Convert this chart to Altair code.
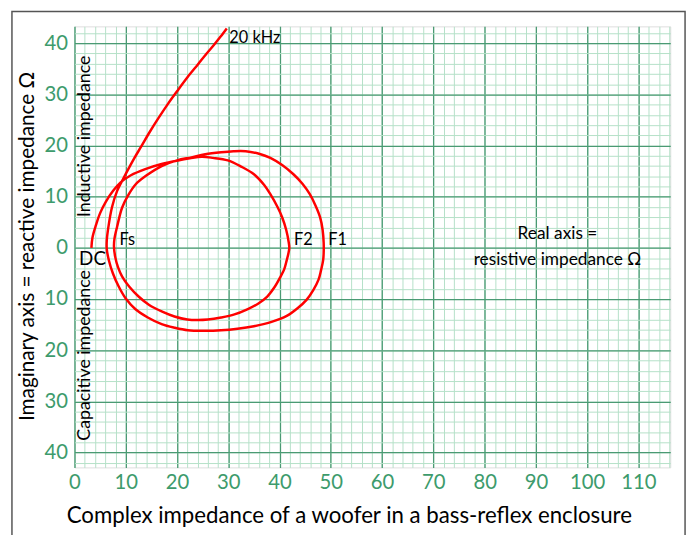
import altair as alt
import pandas as pd

# Impedance locus (real part, imaginary part), ordered from DC to 20 kHz
re_vals = [3.3, 3.5, 4.2, 5.0, 6.1, 7.5, 9.0, 11.0, 13.8, 17.0, 20.2, 22.5,
           24.8, 27.0, 29.9, 32.5, 35.0, 37.0, 38.2, 39.6, 40.5, 41.3, 41.8, 41.9, 41.7, 41.4, 40.9, 40.2,
           39.0, 37.6, 35.8, 33.7, 31.2, 28.6, 26.0, 24.1, 22.0, 19.5, 17.0, 14.5, 12.5, 10.7, 9.3,
           8.5, 7.95, 7.7, 7.8, 8.3, 9.3, 10.6, 11.9, 13.8, 17.0, 20.0, 22.8,
           25.5, 28.6, 31.0, 33.4, 36.0, 38.2, 40.5, 42.7, 44.5, 45.9, 47.0, 47.9, 48.4, 48.6, 48.6,
           48.5, 48.1, 47.6, 46.6, 45.3, 43.5, 41.4, 38.3, 35.0, 31.8, 28.6, 25.5, 22.1, 19.5, 17.0,
           14.3, 11.9, 10.0, 8.6, 7.5, 6.7, 6.3, 6.3, 6.6, 7.3, 8.3, 9.6, 10.6, 11.7, 13.0, 14.7, 16.4,
           18.2, 20.0, 22.0, 24.1, 25.7, 27.3, 28.5, 29.7]
im_vals = [0.0, 2.0, 4.5, 6.8, 9.0, 11.1, 12.8, 14.2, 15.4, 16.4, 17.1, 17.5,
           17.8, 17.6, 17.1, 15.9, 14.4, 12.3, 10.5, 8.0, 6.0, 3.5, 1.0, 0.0, -1.2, -2.4, -4.2, -5.6,
           -7.7, -9.5, -10.9, -12.0, -13.0, -13.6, -14.0, -14.1, -14.0, -13.4, -12.4, -11.1, -9.5, -7.6, -5.6,
           -3.8, -1.8, 0.3, 1.8, 4.1, 7.9, 10.5, 12.4, 14.0, 16.0, 17.1, 17.7,
           18.3, 18.7, 18.9, 18.9, 18.4, 17.6, 16.2, 14.4, 12.5, 10.5, 8.3, 6.0, 3.5, 1.0, -1.0,
           -2.4, -4.3, -6.2, -8.2, -10.1, -11.8, -13.3, -14.5, -15.3, -15.8, -16.1, -16.2, -16.1, -15.6, -14.9,
           -13.6, -12.0, -9.9, -7.5, -5.0, -2.4, -0.3, 1.5, 4.0, 7.9, 11.1, 13.7, 15.6, 17.6, 19.8, 22.7, 25.4,
           28.1, 30.6, 33.3, 35.9, 37.9, 39.8, 41.3, 42.9]

label_text = ["20 kHz", "Fs", "F2", "F1"]
label_re = [30.2, 8.8, 42.8, 49.5]
label_im = [41.1, 1.5, 1.5, 1.5]

axis_note_text = ["Real axis =", "resistive impedance \u03a9"]
axis_note_re = [94.2, 94.2]
axis_note_im = [2.8, -2.4]

side_text = ["Inductive impedance", "Capacitive impedance"]
side_re = [2.1, 2.0]
side_im = [21.8, -21.0]

dc_text = ["DC"]
dc_re = [0.9]
dc_im = [-2.2]

x_major = [0, 10, 20, 30, 40, 50, 60, 70, 80, 90, 100, 110]
y_major = [-40, -30, -20, -10, 0, 10, 20, 30, 40]
x_minor = list(range(0, 117, 2))
y_minor = list(range(-42, 43, 2))

FONT = "Lato"
GREEN_TXT = "#3d9b6c"
MAJOR = "#4a9a73"
MINOR = "#b5e1c8"

df = pd.DataFrame({"i": list(range(len(re_vals))), "re": re_vals, "im": im_vals})
xs = alt.Scale(domain=[0, 116.2], nice=False, zero=False)
ys = alt.Scale(domain=[-42.9, 43.3], nice=False, zero=False)

minor = alt.Chart(df).mark_point(opacity=0).encode(
    x=alt.X("re:Q", scale=xs, axis=alt.Axis(orient="bottom", values=x_minor, grid=True, gridColor=MINOR,
                                           gridWidth=1, labels=False, ticks=False, domain=False, title=None)),
    y=alt.Y("im:Q", scale=ys, axis=alt.Axis(orient="left", values=y_minor, grid=True, gridColor=MINOR,
                                           gridWidth=1, labels=False, ticks=False, domain=False, title=None)),
)

major = alt.Chart(df).mark_point(opacity=0).encode(
    x=alt.X("re:Q", scale=xs, axis=alt.Axis(
        orient="bottom", values=x_major, grid=True, gridColor=MAJOR, gridWidth=1.3,
        labels=True, labelColor=GREEN_TXT, labelFont=FONT, labelFontSize=20.5, labelPadding=5,
        ticks=False, domain=False, labelFlush=False,
        title="Complex impedance of a woofer in a bass-reflex enclosure", titleFont=FONT,
        titleFontSize=22.5, titleFontWeight="normal", titleColor="black",
        titleX=277.7, titleY=49, titleAlign="center", titleBaseline="middle")),
    y=alt.Y("im:Q", scale=ys, axis=alt.Axis(
        orient="left", values=y_major, grid=True, gridColor=MAJOR, gridWidth=1.3,
        labels=True, labelColor=GREEN_TXT, labelFont=FONT, labelFontSize=20.5, labelPadding=7,
        labelExpr="abs(datum.value)", ticks=False, domain=False, labelFlush=False,
        title="Imaginary axis = reactive impedance \u03a9", titleFont=FONT, titleFontSize=21,
        titleFontWeight="normal", titleColor="black", titleAngle=270,
        titleX=-47.8, titleY=222.2, titleAlign="center", titleBaseline="middle")),
)

curve = alt.Chart(df).mark_line(color="#ff0000", strokeWidth=2.5, interpolate="catmull-rom").encode(
    x=alt.X("re:Q", scale=xs, axis=None),
    y=alt.Y("im:Q", scale=ys, axis=None),
    order="i:Q",
)

lab_df = pd.DataFrame({"re": label_re, "im": label_im, "t": label_text})
labels = alt.Chart(lab_df).mark_text(font=FONT, fontSize=16.5, align="left", baseline="middle", color="black").encode(
    x=alt.X("re:Q", scale=xs, axis=None), y=alt.Y("im:Q", scale=ys, axis=None), text="t:N")

note_df = pd.DataFrame({"re": axis_note_re, "im": axis_note_im, "t": axis_note_text})
notes = alt.Chart(note_df).mark_text(font=FONT, fontSize=17.5, align="center", baseline="middle", color="black").encode(
    x=alt.X("re:Q", scale=xs, axis=None), y=alt.Y("im:Q", scale=ys, axis=None), text="t:N")

side_df = pd.DataFrame({"re": side_re, "im": side_im, "t": side_text})
sides = alt.Chart(side_df).mark_text(font=FONT, fontSize=18, align="center", baseline="middle", angle=270,
                                     color="black").encode(
    x=alt.X("re:Q", scale=xs, axis=None), y=alt.Y("im:Q", scale=ys, axis=None), text="t:N")

dc_df = pd.DataFrame({"re": dc_re, "im": dc_im, "t": dc_text})
dc = alt.Chart(dc_df).mark_text(font=FONT, fontSize=19, align="left", baseline="middle", color="black").encode(
    x=alt.X("re:Q", scale=xs, axis=None), y=alt.Y("im:Q", scale=ys, axis=None), text="t:N")

frame = alt.Chart(pd.DataFrame({"a": [0]})).mark_rect(fillOpacity=0, stroke="#555555", strokeWidth=1.5).encode(
    x=alt.value(-63.3), x2=alt.value(618), y=alt.value(-15), y2=alt.value(540))

chart = alt.layer(minor, major, curve, labels, notes, sides, dc, frame).resolve_axis(
    x="independent", y="independent"
).properties(
    width=603, height=446.4,
    autosize=alt.AutoSizeParams(type="none"),
    padding={"left": 67.3, "top": 15.3, "right": 20, "bottom": 80},
).configure_view(stroke=MAJOR, strokeWidth=1.5).configure(background="white")

chart.save("out.html", embed_options={"renderer": "svg", "actions": False})
